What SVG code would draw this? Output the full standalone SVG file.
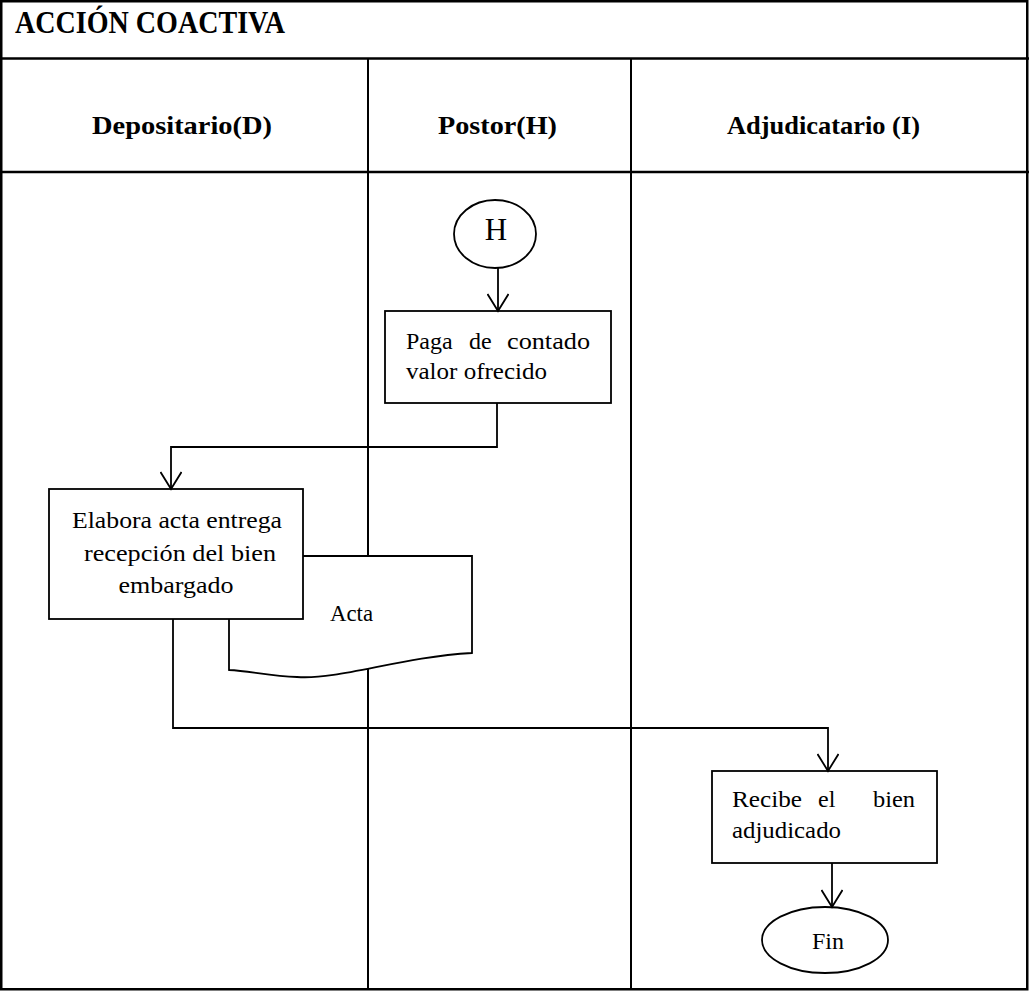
<svg xmlns="http://www.w3.org/2000/svg" width="1029" height="992" viewBox="0 0 1029 992">
<defs>
<style>
.frame{fill:none;stroke:#000;stroke-width:2.5}
.lane{fill:none;stroke:#000;stroke-width:2}
.box{fill:#fff;stroke:#000;stroke-width:1.8}
.conn{fill:none;stroke:#000;stroke-width:1.8}
.t{font-family:"Liberation Serif","DejaVu Serif",serif;font-size:24px;fill:#000}
.big{font-family:"Liberation Serif","DejaVu Serif",serif;font-size:31px;fill:#000}
.h{font-family:"Liberation Serif","DejaVu Serif",serif;font-size:26px;font-weight:bold;fill:#000}
.title{font-family:"Liberation Serif","DejaVu Serif",serif;font-size:31px;font-weight:bold;fill:#000}
</style>
<marker id="arr" markerWidth="20" markerHeight="22" refX="18" refY="11" orient="auto" markerUnits="userSpaceOnUse" viewBox="0 0 20 22">
<path d="M1,0.5 L18,11 L1,21.5" fill="none" stroke="#000" stroke-width="1.8"/>
</marker>
</defs>
<rect x="0" y="0" width="1029" height="992" fill="#fff"/>
<g id="lanes">
<rect class="frame" x="1.25" y="1.25" width="1026" height="988"/>
<line class="frame" x1="0" y1="58.5" x2="1029" y2="58.5"/>
<line class="frame" x1="0" y1="172" x2="1029" y2="172"/>
<line class="lane" x1="368" y1="59" x2="368" y2="989"/>
<line class="lane" x1="631" y1="59" x2="631" y2="989"/>
<text class="title" x="15" y="33" textLength="270" lengthAdjust="spacingAndGlyphs">ACCIÓN COACTIVA</text>
<text class="h" x="92" y="134" textLength="180" lengthAdjust="spacingAndGlyphs">Depositario(D)</text>
<text class="h" x="438" y="134" textLength="119" lengthAdjust="spacingAndGlyphs">Postor(H)</text>
<text class="h" x="727" y="134" textLength="193" lengthAdjust="spacingAndGlyphs">Adjudicatario (I)</text>
</g>
<g id="node-h">
<ellipse class="box" cx="495" cy="234" rx="41" ry="34"/>
<text class="big" x="496" y="240" text-anchor="middle">H</text>
</g>
<g id="node-paga">
<rect class="box" x="385" y="311" width="226" height="92"/>
<text class="t" y="349"><tspan x="406">Paga</tspan><tspan x="469">de</tspan><tspan x="507" textLength="83" lengthAdjust="spacingAndGlyphs">contado</tspan></text>
<text class="t" x="406" y="379" textLength="141" lengthAdjust="spacingAndGlyphs">valor ofrecido</text>
</g>
<g id="node-acta">
<path class="box" d="M229,556 L472,556 L472,653 C400,657 340,680 297,677 C270,676 250,671 229,670 Z"/>
<text class="t" x="330" y="621" textLength="43" lengthAdjust="spacingAndGlyphs">Acta</text>
</g>
<g id="node-elabora">
<rect class="box" x="49" y="489" width="254" height="130"/>
<text class="t" x="177" y="528" text-anchor="middle" textLength="210" lengthAdjust="spacingAndGlyphs">Elabora acta entrega</text>
<text class="t" x="180" y="561" text-anchor="middle" textLength="192" lengthAdjust="spacingAndGlyphs">recepción  del bien</text>
<text class="t" x="176" y="593" text-anchor="middle" textLength="115" lengthAdjust="spacingAndGlyphs">embargado</text>
</g>
<g id="node-recibe">
<rect class="box" x="712" y="771" width="225" height="92"/>
<text class="t" y="807"><tspan x="732" textLength="70" lengthAdjust="spacingAndGlyphs">Recibe</tspan><tspan x="818">el</tspan><tspan x="873" textLength="42" lengthAdjust="spacingAndGlyphs">bien</tspan></text>
<text class="t" x="732" y="838" textLength="109" lengthAdjust="spacingAndGlyphs">adjudicado</text>
</g>
<g id="node-fin">
<ellipse class="box" cx="825" cy="940" rx="63" ry="33"/>
<text class="t" x="828" y="949" text-anchor="middle">Fin</text>
</g>
<g id="connectors">
<path class="conn" d="M498,268 L498,311" marker-end="url(#arr)"/>
<path class="conn" d="M497,403 L497,447 L171,447 L171,489" marker-end="url(#arr)"/>
<path class="conn" d="M173,619 L173,728 L828,728 L828,771" marker-end="url(#arr)"/>
<path class="conn" d="M832,863 L832,907" marker-end="url(#arr)"/>
</g>
</svg>
